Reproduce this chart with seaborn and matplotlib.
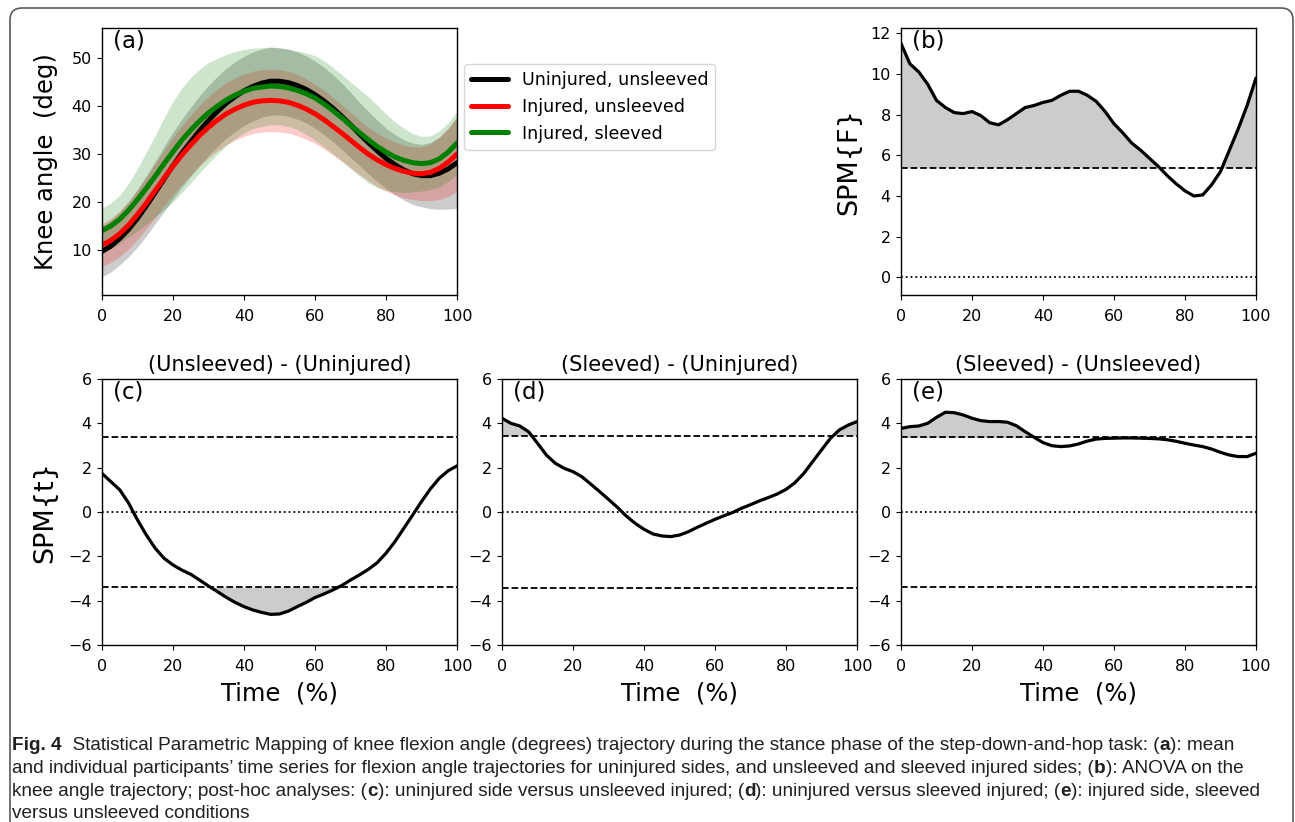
import numpy as np
import pandas as pd
import matplotlib
matplotlib.use("Agg")
import matplotlib.pyplot as plt
import seaborn as sns
from matplotlib.patches import FancyBboxPatch
from matplotlib.transforms import IdentityTransform
from matplotlib.offsetbox import TextArea, HPacker, AnchoredOffsetbox

# ---------------- data ----------------
time_a = np.linspace(0, 100, 41)
mean_uninjured = [9.7, 10.8, 12.4, 14.3, 16.6, 19.2, 22.0, 24.8, 27.6, 30.2, 32.6, 34.9, 37.0, 38.9,
                  40.6, 42.0, 43.2, 44.1, 44.8, 45.2, 45.2, 44.9, 44.3, 43.5, 42.4, 41.1, 39.6, 37.9,
                  36.1, 34.2, 32.4, 30.7, 29.1, 27.8, 26.7, 25.9, 25.5, 25.5, 26.0, 26.9, 28.2]
sd_uninjured = [5.3, 5.4, 5.5, 5.7, 6.0, 6.3, 6.5, 6.8, 7.0, 7.1, 7.2, 7.3, 7.3, 7.3, 7.3, 7.3, 7.2,
                7.2, 7.1, 7.1, 7.0, 7.0, 7.0, 7.0, 7.0, 7.0, 7.0, 6.9, 6.8, 6.6, 6.5, 6.4, 6.3, 6.3,
                6.3, 6.4, 6.5, 6.9, 7.5, 8.4, 9.5]
mean_inj_unsleeved = [11.0, 12.0, 13.4, 15.2, 17.4, 19.8, 22.4, 25.0, 27.5, 29.8, 31.9, 33.9, 35.6,
                      37.1, 38.4, 39.4, 40.2, 40.8, 41.1, 41.2, 41.1, 40.8, 40.2, 39.4, 38.4, 37.2,
                      35.8, 34.4, 32.9, 31.4, 30.0, 28.8, 27.8, 27.0, 26.4, 26.0, 25.9, 26.2, 27.0,
                      28.3, 30.0]
sd_inj_unsleeved = [4.5, 4.6, 4.8, 5.0, 5.2, 5.4, 5.6, 5.8, 6.0, 6.1, 6.2, 6.3, 6.4, 6.45, 6.5, 6.5,
                    6.5, 6.5, 6.5, 6.5, 6.5, 6.45, 6.4, 6.3, 6.2, 6.1, 6.0, 5.9, 5.8, 5.7, 5.6, 5.55,
                    5.5, 5.5, 5.5, 5.5, 5.6, 5.9, 6.5, 7.1, 7.8]
mean_inj_sleeved = [14.0, 15.0, 16.4, 18.3, 20.5, 22.9, 25.4, 28.0, 30.5, 32.9, 35.0, 36.9, 38.6,
                    40.0, 41.3, 42.3, 43.1, 43.7, 44.0, 44.2, 44.1, 43.8, 43.3, 42.6, 41.7, 40.5,
                    39.1, 37.6, 36.0, 34.5, 33.0, 31.6, 30.4, 29.4, 28.7, 28.2, 28.0, 28.2, 29.0,
                    30.4, 32.3]
sd_inj_sleeved = [4.7, 4.8, 5.0, 5.6, 6.5, 7.5, 8.5, 9.6, 10.5, 10.9, 11.0, 10.8, 10.5, 10.0, 9.5,
                  9.1, 8.7, 8.4, 8.2, 8.1, 8.0, 8.05, 8.2, 8.5, 8.8, 9.0, 9.0, 9.0, 9.0, 9.0, 9.0,
                  8.6, 8.0, 7.3, 6.7, 6.1, 5.7, 5.6, 5.8, 6.1, 6.6]
series_labels = ["Uninjured, unsleeved", "Injured, unsleeved", "Injured, sleeved"]

time_spm = np.linspace(0, 100, 41)
spm_f = [11.5, 10.5, 10.1, 9.5, 8.7, 8.35, 8.1, 8.05, 8.15, 7.95, 7.6, 7.5, 7.75, 8.05, 8.35, 8.45,
         8.6, 8.7, 8.95, 9.15, 9.15, 8.95, 8.65, 8.15, 7.55, 7.1, 6.6, 6.25, 5.85, 5.45, 5.0, 4.6,
         4.25, 4.0, 4.05, 4.55, 5.2, 6.25, 7.3, 8.45, 9.8]
spm_t_c = [1.74, 1.37, 1.0, 0.4, -0.36, -1.04, -1.64, -2.09, -2.39, -2.62, -2.81, -3.07, -3.34, -3.59,
           -3.85, -4.08, -4.27, -4.42, -4.53, -4.62, -4.60, -4.47, -4.27, -4.08, -3.86, -3.70, -3.52,
           -3.32, -3.07, -2.84, -2.59, -2.29, -1.86, -1.34, -0.74, -0.14, 0.47, 1.04, 1.52, 1.86, 2.08]
spm_t_d = [4.23, 4.0, 3.88, 3.62, 3.10, 2.57, 2.20, 1.97, 1.82, 1.59, 1.26, 0.92, 0.57, 0.21, -0.18,
           -0.51, -0.78, -0.99, -1.08, -1.11, -1.04, -0.89, -0.69, -0.51, -0.33, -0.17, -0.02, 0.17,
           0.33, 0.50, 0.65, 0.81, 1.02, 1.32, 1.74, 2.27, 2.80, 3.32, 3.70, 3.92, 4.08]
spm_t_e = [3.77, 3.85, 3.88, 4.0, 4.27, 4.50, 4.48, 4.38, 4.23, 4.12, 4.08, 4.08, 4.05, 3.89, 3.62,
           3.37, 3.13, 2.99, 2.95, 2.98, 3.07, 3.20, 3.29, 3.32, 3.33, 3.34, 3.34, 3.33, 3.32, 3.30,
           3.26, 3.19, 3.10, 3.02, 2.95, 2.84, 2.69, 2.57, 2.50, 2.50, 2.65]
thr_f = 5.36
thr_c = 3.40
thr_d = 3.42
thr_e = 3.37

titles = ["(Unsleeved) - (Uninjured)", "(Sleeved) - (Uninjured)", "(Sleeved) - (Unsleeved)"]
panel_labels = ["(a)", "(b)", "(c)", "(d)", "(e)"]

caption_lines = [
    [("Fig. 4", True), ("  Statistical Parametric Mapping of knee flexion angle (degrees) trajectory during the stance phase of the step-down-and-hop task: (", False), ("a", True), ("): mean", False)],
    [("and individual participants\u2019 time series for flexion angle trajectories for uninjured sides, and unsleeved and sleeved injured sides; (", False), ("b", True), ("): ANOVA on the", False)],
    [("knee angle trajectory; post-hoc analyses: (", False), ("c", True), ("): uninjured side versus unsleeved injured; (", False), ("d", True), ("): uninjured versus sleeved injured; (", False), ("e", True), ("): injured side, sleeved", False)],
    [("versus unsleeved conditions", False)],
]

# ---------------- style ----------------
sns.set_style("ticks")
plt.rcParams.update({
    "font.family": ["DejaVu Sans"],
    "axes.edgecolor": "black",
    "axes.linewidth": 1.0,
    "xtick.color": "black",
    "ytick.color": "black",
    "xtick.direction": "out",
    "ytick.direction": "out",
    "xtick.major.size": 3.8,
    "ytick.major.size": 3.8,
    "xtick.major.pad": 6.0,
    "ytick.major.pad": 3.5,
    "xtick.labelsize": 11.5,
    "ytick.labelsize": 11.5,
    "axes.labelcolor": "black",
    "text.color": "black",
})

W, H = 1295, 822
fig = plt.figure(figsize=(W / 100, H / 100), dpi=100)
fig.patch.set_facecolor("white")


def axes_px(left, top, right, bottom):
    return fig.add_axes([left / W, 1 - bottom / H, (right - left) / W, (bottom - top) / H])


ax_a = axes_px(102, 28, 457, 295)
ax_b = axes_px(901, 28, 1256, 295)
ax_c = axes_px(102, 379, 457, 645)
ax_d = axes_px(502, 379, 857, 645)
ax_e = axes_px(901, 379, 1256, 645)

# ---------------- panel (a) ----------------
means = [mean_uninjured, mean_inj_unsleeved, mean_inj_sleeved]
sds = [sd_uninjured, sd_inj_unsleeved, sd_inj_sleeved]
colors = ["black", "red", "green"]
for m, s, c in zip(means, sds, colors):
    m = np.asarray(m)
    s = np.asarray(s)
    ax_a.fill_between(time_a, m - s, m + s, color=c, alpha=0.2, lw=0)
for m, c, lab in zip(means, colors, series_labels):
    df = pd.DataFrame({"time": time_a, "angle": m})
    sns.lineplot(data=df, x="time", y="angle", ax=ax_a, color=c, lw=3.6, label=lab)
ax_a.set_xlim(0, 100)
ax_a.set_ylim(0.6, 56.3)
ax_a.set_yticks([10, 20, 30, 40, 50])
ax_a.set_xticks([0, 20, 40, 60, 80, 100])
ax_a.set_xlabel("")
ax_a.set_ylabel("Knee angle  (deg)", fontsize=17.5, labelpad=10)
ax_a.legend(loc="upper left", bbox_to_anchor=(1.02, 0.865), borderaxespad=0, fontsize=12.6,
            frameon=True, handlelength=2.1)


# ---------------- SPM panels ----------------
def spm_panel(ax, y, thr, two_tailed):
    y = np.asarray(y)
    sns.lineplot(x=time_spm, y=y, ax=ax, color="black", lw=2.3)
    ax.axhline(0, color="black", ls=":", lw=1.3)
    ax.axhline(thr, color="black", ls="--", lw=1.3)
    ax.fill_between(time_spm, thr, y, where=y > thr, interpolate=True, color="0.8", lw=0)
    if two_tailed:
        ax.axhline(-thr, color="black", ls="--", lw=1.3)
        ax.fill_between(time_spm, -thr, y, where=y < -thr, interpolate=True, color="0.8", lw=0)
    ax.set_xlim(0, 100)
    ax.set_xticks([0, 20, 40, 60, 80, 100])


spm_panel(ax_b, spm_f, thr_f, False)
ax_b.set_ylim(-0.87, 12.26)
ax_b.set_yticks([0, 2, 4, 6, 8, 10, 12])
ax_b.set_xlabel("")
ax_b.set_ylabel("SPM{F}", fontsize=19.5, labelpad=6)

for ax, y, thr, title in zip([ax_c, ax_d, ax_e], [spm_t_c, spm_t_d, spm_t_e],
                             [thr_c, thr_d, thr_e], titles):
    spm_panel(ax, y, thr, True)
    ax.set_ylim(-6, 6)
    ax.set_yticks([-6, -4, -2, 0, 2, 4, 6])
    ax.set_xlabel("Time  (%)", fontsize=17.5, labelpad=5.5)
    ax.set_ylabel("")
    ax.set_title(title, fontsize=15, pad=6)
ax_c.set_ylabel("SPM{t}", fontsize=19.5, labelpad=7)

for ax, lab in zip([ax_a, ax_b, ax_c, ax_d, ax_e], panel_labels):
    ax.text(0.03, 0.995, lab, transform=ax.transAxes, ha="left", va="top", fontsize=16.5)

# ---------------- frame & caption ----------------
frame = FancyBboxPatch((10, -30), 1283, H - 8 + 30, boxstyle="round,pad=0,rounding_size=12",
                       transform=IdentityTransform(), facecolor="none", edgecolor="#5a5a5a",
                       lw=1.2)
fig.add_artist(frame)

cap_family = ["Liberation Sans"]
cap_size = 13.7
line_y = [745, 768, 791, 813]
for segs, yy in zip(caption_lines, line_y):
    children = [TextArea(t, textprops=dict(family=cap_family, fontsize=cap_size,
                                            weight="bold" if b else "normal", color="#231f20"))
                for t, b in segs]
    pack = HPacker(children=children, align="baseline", pad=0, sep=0)
    box = AnchoredOffsetbox(loc="center left", child=pack, pad=0, borderpad=0, frameon=False,
                            bbox_to_anchor=(12 / W, 1 - yy / H), bbox_transform=fig.transFigure)
    fig.add_artist(box)

fig.savefig("out.png", dpi=100)
